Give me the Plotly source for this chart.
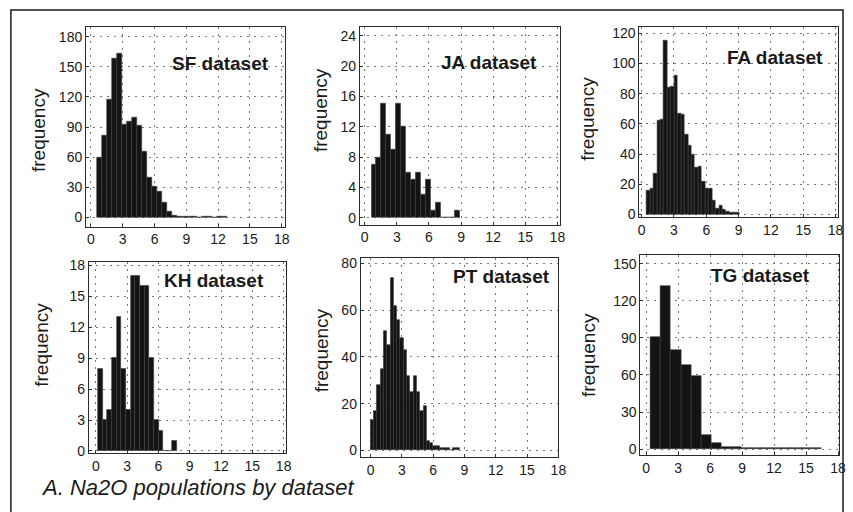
import plotly.graph_objects as go

W, H = 853, 512

# ---------------- data (histogram counts, Na2O wt%) ----------------
datasets = ["SF", "JA", "FA", "KH", "PT", "TG"]

sf_counts = [60, 82, 117, 158, 163, 93, 95, 99, 92, 66, 40, 31, 26, 15, 6, 2, 1, 1, 1, 1, 0, 1, 1, 0, 1, 1]
ja_counts = [7, 8, 15, 11, 9, 15, 12, 6, 5, 6, 3, 5, 1, 2, 0, 0, 0, 1]
fa_counts = [16, 17, 27, 62, 63, 115, 84, 85, 92, 67, 66, 53, 46, 40, 31, 32, 22, 17, 17, 9, 4, 6, 3, 2, 1, 1, 1]
kh_counts = [8, 3, 4, 9, 13, 8, 4, 17, 17, 16, 16, 9, 3, 2, 0, 0, 1]
pt_counts = [13, 17, 28, 35, 51, 45, 74, 62, 56, 48, 43, 32, 25, 32, 25, 17, 19, 4, 3, 2, 2, 1, 1, 1, 0, 1, 1]
tg_counts = [91, 132, 80, 68, 59, 11, 5, 2, 2, 1, 1, 1, 1, 1, 1, 1, 1]

# bin start and bin width (Na2O units) for each dataset
bin_start = {"SF": 0.6, "JA": 0.62, "FA": 0.46, "KH": 0.22, "PT": 0.0, "TG": 0.45}
bin_width = {"SF": 0.47, "JA": 0.46, "FA": 0.32, "KH": 0.445, "PT": 0.316, "TG": 0.94}

counts = {"SF": sf_counts, "JA": ja_counts, "FA": fa_counts,
          "KH": kh_counts, "PT": pt_counts, "TG": tg_counts}

x_ticks = [0, 3, 6, 9, 12, 15, 18]
y_ticks = {"SF": [0, 30, 60, 90, 120, 150, 180],
           "JA": [0, 4, 8, 12, 16, 20, 24],
           "FA": [0, 20, 40, 60, 80, 100, 120],
           "KH": [0, 3, 6, 9, 12, 15, 18],
           "PT": [0, 20, 40, 60, 80],
           "TG": [0, 30, 60, 90, 120, 150]}

caption = "A. Na2O populations by dataset"
y_label = "frequency"

# ---------------- layout (pixel boxes) ----------------
boxes = {  # x0, x1, y0(top), y1(bottom) in px
    "SF": (85, 286, 23, 227),
    "JA": (362, 565, 23, 225),
    "FA": (645, 846, 23, 217),
    "KH": (88, 287, 263, 458),
    "PT": (363, 563, 259, 462),
    "TG": (646, 847, 256, 460),
}
x_ranges = {"SF": [-0.47, 18.28], "JA": [-0.46, 18.28], "FA": [-0.21, 18.24],
            "KH": [-0.66, 18.19], "PT": [-0.94, 18.0], "TG": [-0.53, 18.1]}
y_ranges = {"SF": [-9, 190], "JA": [-0.9, 25.2], "FA": [-1.5, 124.5],
            "KH": [-0.2, 18.35], "PT": [-2.8, 82.4], "TG": [-4.8, 157]}
title_pos = {"SF": (272, 61), "JA": (543, 60), "FA": (833, 55),
             "KH": (267, 282), "PT": (557, 278), "TG": (820, 277)}
ylab_pos = {"SF": (37, 129), "JA": (323, 108), "FA": (593, 117),
            "KH": (40, 348), "PT": (323, 353), "TG": (593, 358)}

def px(x):
    return x / W

def py(y):
    return 1 - y / H

fig = go.Figure()
layout = {}
annotations = []
tick_font = dict(family="Liberation Sans, Arial, sans-serif", size=14, color="#1a1a1a")

for i, name in enumerate(datasets):
    k = "" if i == 0 else str(i + 1)
    c = counts[name]
    s, w = bin_start[name], bin_width[name]
    xs = [s + w * (j + 0.5) for j in range(len(c))]
    fig.add_trace(go.Bar(
        x=xs, y=c, width=w, xaxis="x" + k, yaxis="y" + k,
        marker=dict(color="#141414", line=dict(color="#3a3a3a", width=0.6)),
        showlegend=False, hoverinfo="x+y"))
    x0, x1, y0, y1 = boxes[name]
    common = dict(showline=True, linecolor="#2a2a2a", linewidth=1, mirror=True,
                  showgrid=True, gridcolor="#777777", gridwidth=1, griddash="2px,5px",
                  zeroline=False, ticks="inside", ticklen=3, tickcolor="#333",
                  tickfont=tick_font, fixedrange=True, ticklabeloverflow="allow")
    layout["xaxis" + k] = dict(domain=[px(x0), px(x1)], range=x_ranges[name],
                               anchor="y" + k, tickvals=x_ticks, **common)
    layout["yaxis" + k] = dict(domain=[py(y1), py(y0)], range=y_ranges[name],
                               anchor="x" + k, tickvals=y_ticks[name], **common)
    tx, ty = title_pos[name]
    annotations.append(dict(x=px(tx), y=py(ty), xref="paper", yref="paper",
                            text="<b>%s dataset</b>" % name, showarrow=False,
                            xanchor="right", yanchor="middle",
                            font=dict(family="Liberation Sans, Arial, sans-serif",
                                      size=19, color="#1a1a1a")))
    lx, ly = ylab_pos[name]
    annotations.append(dict(x=px(lx), y=py(ly), xref="paper", yref="paper",
                            text=y_label, showarrow=False, textangle=-90,
                            xanchor="center", yanchor="middle",
                            font=dict(family="Liberation Sans, Arial, sans-serif",
                                      size=19, color="#1a1a1a")))

annotations.append(dict(x=px(37), y=py(493), xref="paper", yref="paper",
                        text="<i>" + caption + "</i>", showarrow=False,
                        xanchor="left", yanchor="middle",
                        font=dict(family="Liberation Sans, Arial, sans-serif",
                                  size=22, color="#1a1a1a")))

shapes = [dict(type="rect", xref="paper", yref="paper",
               x0=px(9), x1=px(851), y0=py(530), y1=py(6),
               line=dict(color="#1a1a1a", width=1.5))]

fig.update_layout(width=W, height=H, margin=dict(l=0, r=0, t=0, b=0),
                  paper_bgcolor="white", plot_bgcolor="white",
                  annotations=annotations, shapes=shapes, bargap=0, **layout)

fig.write_html("out.html",
               config={"displayModeBar": False},
               post_script="document.body.style.margin='0';document.body.style.overflow='hidden';")
